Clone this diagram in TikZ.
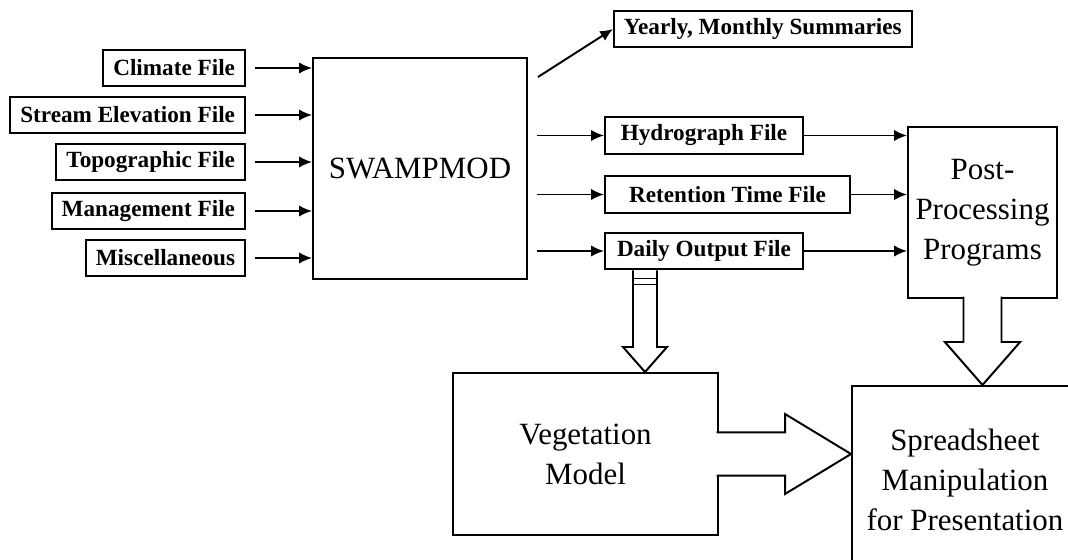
\documentclass[tikz,border=0pt]{standalone}
\usepackage{fontspec}
\setmainfont{Liberation Serif}
\usetikzlibrary{positioning,arrows.meta,calc}
\tikzset{
  infile/.style={draw=black,line width=1.4pt,font=\fontsize{16.5}{19}\selectfont\bfseries,inner xsep=0.25cm,inner ysep=2pt,minimum height=0.92cm,fill=white},
  bigbox/.style={draw=black,line width=1.4pt,align=center,font=\fontsize{22}{28.5}\selectfont,fill=white},
  flow/.style={-{Latex[length=3.2mm,width=2.8mm]},line width=1.4pt,draw=black},
  hollow/.style={draw=black,line width=1.4pt,fill=white}
}
\begin{document}
\begin{tikzpicture}[x=1cm,y=1cm]
\useasboundingbox (0,0) rectangle (26.7,14);
\clip (0,0) rectangle (26.7,14);
% Input files
\node[infile,anchor=east] (clim) at (6.15,12.3) {Climate File};
\node[infile,anchor=east] (stream) at (6.15,11.125) {Stream Elevation File};
\node[infile,anchor=east] (topo) at (6.15,9.95) {Topographic File};
\node[infile,anchor=east] (mgmt) at (6.15,8.725) {Management File};
\node[infile,anchor=east] (misc) at (6.15,7.55) {Miscellaneous};

\node[bigbox,minimum width=5.35cm,minimum height=5.525cm] (swamp) at (10.5,9.7875) {SWAMPMOD};

% Output files
\node[infile,anchor=west] (yearly) at (15.325,13.275) {Yearly, Monthly Summaries};
\node[infile,anchor=west,minimum width=4.95cm] (hydro) at (15.1,10.6125) {Hydrograph File};
\node[infile,anchor=west,minimum width=6.125cm] (ret) at (15.1,9.1375) {Retention Time File};
\node[infile,anchor=west,minimum width=4.95cm] (daily) at (15.1,7.725) {Daily Output File};

\node[bigbox,minimum width=3.725cm,minimum height=4.275cm] (post) at (24.5625,8.6875) {Post-\\Processing\\Programs};
\node[bigbox,minimum width=6.625cm,minimum height=4.05cm] (veg) at (14.6375,2.65) {Vegetation\\Model};
\node[bigbox,minimum width=5.65cm,minimum height=4.7cm] (spread) at (24.125,2.0) {Spreadsheet\\Manipulation\\for Presentation};

\draw[flow] ([xshift=0.22cm]clim.east) -- (clim.east -| swamp.west);
\draw[flow] ([xshift=0.22cm]stream.east) -- (stream.east -| swamp.west);
\draw[flow] ([xshift=0.22cm]topo.east) -- (topo.east -| swamp.west);
\draw[flow] ([xshift=0.22cm]mgmt.east) -- (mgmt.east -| swamp.west);
\draw[flow] ([xshift=0.22cm]misc.east) -- (misc.east -| swamp.west);

\draw[flow] ($(swamp.north east)+(0.25,-0.5)$) -- (yearly.west);
\draw[flow] ($(hydro.west -| swamp.east)+(0.225,0)$) -- (hydro.west);
\draw[flow] ($(ret.west -| swamp.east)+(0.225,0)$) -- (ret.west);
\draw[flow] ($(daily.west -| swamp.east)+(0.225,0)$) -- (daily.west);
\draw[flow] (hydro.east) -- (hydro.east -| post.west);
\draw[flow] (ret.east) -- (ret.east -| post.west);
\draw[flow] (daily.east) -- (daily.east -| post.west);

% Hollow arrows
\coordinate (dtop) at ([xshift=1.025cm]daily.south west);
\coordinate (dtip) at (dtop |- veg.north);
\draw[line width=1.4pt] ($(dtop)+(-0.3,0)$) -- ($(dtip)+(-0.3,0.625)$) -- ($(dtip)+(-0.55,0.625)$)
  -- (dtip) -- ($(dtip)+(0.55,0.625)$) -- ($(dtip)+(0.3,0.625)$) -- ($(dtop)+(0.3,0)$);
\draw[line width=0.8pt] ($(dtop)+(-0.3,-0.2)$) -- ($(dtop)+(0.3,-0.2)$);
\draw[line width=0.8pt] ($(dtop)+(-0.3,-0.35)$) -- ($(dtop)+(0.3,-0.35)$);

\coordinate (ptip) at (post.south |- spread.north);
\filldraw[hollow] ($(post.south)+(-0.475,0.06)$) -- ($(ptip)+(-0.475,1.075)$) -- ($(ptip)+(-0.94,1.075)$)
  -- (ptip) -- ($(ptip)+(0.94,1.075)$) -- ($(ptip)+(0.475,1.075)$) -- ($(post.south)+(0.475,0.06)$);

\coordinate (vtip) at (veg.east -| spread.west);
\filldraw[hollow] ($(veg.east)+(-0.06,0.54)$) -- ($(vtip)+(-1.65,0.54)$) -- ($(vtip)+(-1.65,1.0)$)
  -- (vtip) -- ($(vtip)+(-1.65,-1.0)$) -- ($(vtip)+(-1.65,-0.54)$) -- ($(veg.east)+(-0.06,-0.54)$);
\end{tikzpicture}
\end{document}
